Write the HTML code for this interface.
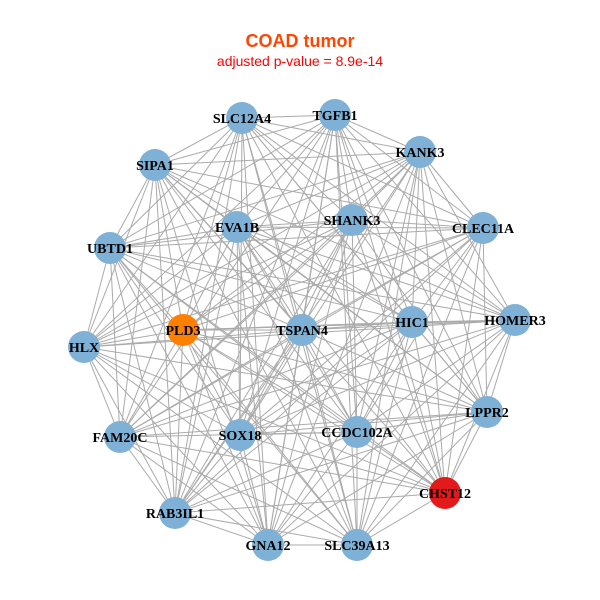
<!DOCTYPE html>
<html><head><meta charset="utf-8"><style>
html,body{margin:0;padding:0;background:#fff;width:600px;height:600px;overflow:hidden}
</style></head><body>
<svg id="s" width="600" height="600" xmlns="http://www.w3.org/2000/svg">
<rect width="600" height="600" fill="#fff"/>
<text x="300" y="47" text-anchor="middle" font-family="Liberation Sans, sans-serif" font-weight="bold" font-size="18" fill="#ff4500">COAD tumor</text>
<text x="300" y="66" text-anchor="middle" font-family="Liberation Sans, sans-serif" font-size="14" fill="#ff0000">adjusted p-value = 8.9e-14</text>
<g id="e" stroke="#aaaaaa" stroke-width="1"></g>
<g id="n"></g>
</svg>
<script>
var N=[["TGFB1",335,115],["SLC12A4",242,118],["KANK3",420,152],["SIPA1",155,165],["SHANK3",352,220],["EVA1B",237,227],["CLEC11A",483,228],["UBTD1",110,248],["HOMER3",515,320],["HIC1",412,322],["TSPAN4",302,330],["PLD3",183,330],["HLX",84,347],["LPPR2",487,412],["FAM20C",120,437],["SOX18",240,435],["CCDC102A",357,432],["CHST12",445,493],["RAB3IL1",175,513],["GNA12",268,545],["SLC39A13",357,545]];
var ns="http://www.w3.org/2000/svg",e=document.getElementById("e"),g=document.getElementById("n");
for(var i=0;i<N.length;i++)for(var j=i+1;j<N.length;j++){
 if((i*7+j*3)%11==0)continue;
 var l=document.createElementNS(ns,"line");
 l.setAttribute("x1",N[i][1]);l.setAttribute("y1",N[i][2]);l.setAttribute("x2",N[j][1]);l.setAttribute("y2",N[j][2]);e.appendChild(l);}
N.forEach(function(a){
 var c=document.createElementNS(ns,"circle");c.setAttribute("cx",a[1]);c.setAttribute("cy",a[2]);c.setAttribute("r",16);
 c.setAttribute("fill",a[0]=="PLD3"?"#ff8000":a[0]=="CHST12"?"#e31a1c":"#7fb0d6");g.appendChild(c);});
N.forEach(function(a){
 var t=document.createElementNS(ns,"text");t.setAttribute("x",a[1]);t.setAttribute("y",a[2]+5);t.setAttribute("text-anchor","middle");
 t.setAttribute("font-family","Liberation Serif, serif");t.setAttribute("font-weight","bold");t.setAttribute("font-size","14");
 t.textContent=a[0];g.appendChild(t);});
</script>
</body></html>
